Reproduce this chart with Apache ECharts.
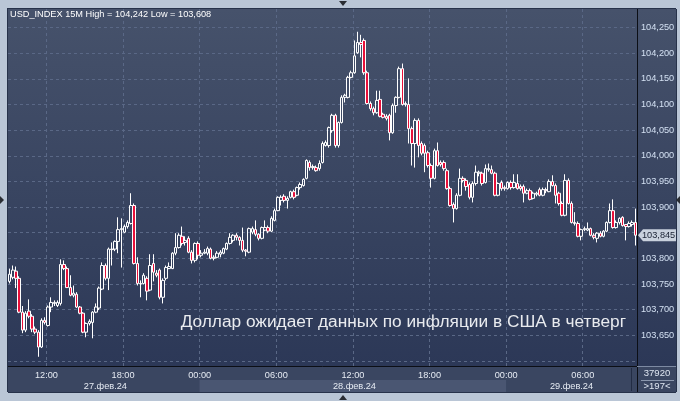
<!DOCTYPE html>
<html><head><meta charset="utf-8">
<script src="https://cdn.jsdelivr.net/npm/echarts@6/dist/echarts.min.js"></script>
<style>html,body{margin:0;padding:0;background:#bac6d6;}#c{width:680px;height:401px;}</style>
</head><body><div id="c"></div>
<script>
const symbol = 'USD_INDEX';
const timeframe = '15M';
const headline = 'Доллар ожидает данных по инфляции в США в четверг';
const totalBars = 37920;
const dayKeys = ['27.02', '28.02', '29.02'];
const dayLabels = ['27.фев.24', '28.фев.24', '29.фев.24'];
const firstBarDay = 27, firstBarMinute = 9 * 60, barMinutes = 15;

const openP = [
103.755,103.763,103.775,103.761,103.695,103.660,103.697,103.687,103.662,103.656,
103.627,103.679,103.669,103.705,103.712,103.708,103.712,103.788,103.780,103.743,
103.728,103.730,103.705,103.693,103.656,103.673,103.675,103.695,103.703,103.740,
103.786,103.761,103.818,103.818,103.833,103.856,103.851,103.862,103.868,103.903,
103.790,103.751,103.751,103.761,103.738,103.790,103.771,103.777,103.724,103.761,
103.780,103.780,103.810,103.821,103.843,103.831,103.839,103.812,103.796,103.829,
103.806,103.810,103.810,103.818,103.800,103.802,103.808,103.810,103.818,103.829,
103.835,103.845,103.841,103.835,103.816,103.812,103.851,103.856,103.847,103.839,
103.855,103.860,103.853,103.874,103.893,103.913,103.921,103.913,103.919,103.930,
103.923,103.938,103.942,103.956,103.987,103.977,103.977,103.975,103.987,104.020,
104.020,104.049,104.079,104.020,104.065,104.114,104.114,104.153,104.162,104.201,
104.221,104.225,104.162,104.102,104.092,104.084,104.110,104.081,104.077,104.079,
104.045,104.098,104.114,104.170,104.100,104.100,104.053,104.024,104.069,104.024,
104.020,104.006,103.981,103.956,104.010,103.987,103.987,103.971,103.936,103.905,
103.897,103.923,103.956,103.952,103.944,103.919,103.946,103.966,103.966,103.948,
103.973,103.973,103.966,103.923,103.948,103.938,103.936,103.948,103.938,103.946,
103.940,103.940,103.927,103.932,103.917,103.925,103.934,103.923,103.934,103.930,
103.950,103.942,103.927,103.907,103.884,103.952,103.907,103.870,103.868,103.843,
103.856,103.855,103.858,103.845,103.839,103.849,103.843,103.853,103.870,103.893,
103.860,103.870,103.880,103.866,103.862,103.866,103.870];
const closeP = [
103.769,103.777,103.761,103.695,103.660,103.693,103.687,103.662,103.656,103.627,
103.679,103.675,103.705,103.714,103.714,103.714,103.788,103.780,103.743,103.728,
103.732,103.705,103.693,103.656,103.673,103.677,103.695,103.705,103.742,103.786,
103.761,103.818,103.817,103.833,103.856,103.858,103.862,103.870,103.903,103.790,
103.751,103.750,103.767,103.736,103.786,103.773,103.767,103.724,103.757,103.782,
103.784,103.810,103.821,103.845,103.829,103.835,103.812,103.796,103.829,103.806,
103.810,103.812,103.819,103.800,103.802,103.810,103.812,103.819,103.829,103.841,
103.845,103.841,103.835,103.816,103.814,103.858,103.858,103.847,103.839,103.860,
103.860,103.853,103.878,103.893,103.919,103.919,103.913,103.917,103.930,103.919,
103.938,103.944,103.954,103.991,103.977,103.979,103.971,103.985,104.024,104.026,
104.055,104.079,104.020,104.065,104.114,104.118,104.153,104.162,104.195,104.221,
104.217,104.162,104.102,104.092,104.084,104.108,104.077,104.075,104.073,104.045,
104.098,104.114,104.170,104.100,104.102,104.053,104.024,104.069,104.020,104.005,
104.005,103.981,103.956,104.010,103.981,103.983,103.975,103.936,103.903,103.897,
103.923,103.956,103.952,103.940,103.919,103.946,103.968,103.968,103.946,103.975,
103.975,103.966,103.923,103.946,103.936,103.936,103.948,103.938,103.948,103.936,
103.936,103.927,103.932,103.915,103.927,103.927,103.923,103.934,103.932,103.950,
103.942,103.923,103.907,103.884,103.952,103.907,103.870,103.868,103.843,103.856,
103.858,103.858,103.845,103.841,103.849,103.843,103.853,103.870,103.893,103.860,
103.870,103.878,103.864,103.862,103.868,103.870,103.845];
const lowP = [
103.751,103.759,103.742,103.693,103.654,103.656,103.683,103.656,103.652,103.608,
103.625,103.671,103.667,103.695,103.707,103.705,103.708,103.777,103.742,103.726,
103.724,103.703,103.691,103.654,103.646,103.669,103.644,103.693,103.699,103.738,
103.757,103.738,103.786,103.814,103.810,103.782,103.849,103.858,103.866,103.788,
103.747,103.724,103.749,103.718,103.736,103.755,103.763,103.720,103.712,103.757,
103.779,103.779,103.806,103.819,103.825,103.825,103.810,103.790,103.792,103.798,
103.802,103.808,103.806,103.798,103.796,103.800,103.802,103.808,103.816,103.827,
103.831,103.835,103.825,103.812,103.804,103.810,103.847,103.843,103.835,103.837,
103.853,103.849,103.851,103.872,103.892,103.903,103.909,103.897,103.917,103.915,
103.921,103.934,103.940,103.954,103.971,103.973,103.969,103.971,103.985,104.018,
104.016,104.045,104.016,104.016,104.063,104.104,104.112,104.151,104.160,104.199,
104.192,104.158,104.100,104.088,104.079,104.082,104.075,104.073,104.069,104.030,
104.043,104.084,104.112,104.098,104.096,104.024,103.981,103.977,103.997,104.001,
103.968,103.977,103.938,103.954,103.979,103.979,103.971,103.934,103.901,103.870,
103.895,103.921,103.948,103.932,103.915,103.909,103.942,103.960,103.942,103.946,
103.969,103.964,103.921,103.921,103.932,103.932,103.934,103.934,103.936,103.934,
103.932,103.909,103.925,103.913,103.915,103.921,103.921,103.921,103.927,103.929,
103.940,103.907,103.903,103.882,103.882,103.905,103.868,103.864,103.841,103.835,
103.853,103.853,103.843,103.837,103.831,103.841,103.841,103.851,103.868,103.858,
103.858,103.866,103.862,103.835,103.860,103.862,103.825];
const highP = [
103.780,103.786,103.784,103.765,103.707,103.697,103.720,103.691,103.667,103.660,
103.683,103.685,103.708,103.724,103.718,103.718,103.798,103.796,103.784,103.767,
103.747,103.734,103.707,103.695,103.675,103.681,103.697,103.712,103.745,103.792,
103.790,103.821,103.831,103.835,103.880,103.878,103.866,103.874,103.927,103.907,
103.802,103.757,103.771,103.765,103.808,103.808,103.777,103.780,103.761,103.786,
103.792,103.812,103.849,103.849,103.862,103.843,103.843,103.816,103.831,103.833,
103.816,103.818,103.823,103.821,103.806,103.814,103.816,103.821,103.831,103.849,
103.847,103.849,103.843,103.860,103.818,103.860,103.862,103.874,103.849,103.862,
103.874,103.864,103.882,103.897,103.921,103.923,103.925,103.921,103.932,103.934,
103.940,103.948,103.956,103.993,103.991,103.983,103.981,103.991,104.028,104.030,
104.057,104.082,104.082,104.067,104.118,104.121,104.156,104.166,104.225,104.242,
104.236,104.229,104.166,104.106,104.096,104.127,104.127,104.084,104.081,104.082,
104.102,104.116,104.174,104.180,104.106,104.151,104.057,104.073,104.073,104.028,
104.024,104.010,103.985,104.014,104.026,103.991,103.991,103.975,103.940,103.909,
103.927,103.975,103.960,103.956,103.948,103.950,103.981,103.971,103.969,103.983,
103.985,103.981,103.969,103.948,103.952,103.942,103.950,103.952,103.964,103.964,
103.944,103.944,103.936,103.936,103.930,103.930,103.938,103.938,103.938,103.954,
103.962,103.946,103.930,103.911,103.964,103.956,103.911,103.890,103.872,103.858,
103.862,103.870,103.860,103.849,103.851,103.853,103.855,103.872,103.907,103.915,
103.874,103.880,103.882,103.866,103.872,103.874,103.897];

const pad = n => (n < 10 ? '0' : '') + n;
const categories = openP.map((_, i) => {
  const m = firstBarMinute + i * barMinutes;
  const d = firstBarDay + Math.floor(m / 1440), mm = m % 1440;
  return d + '.02 ' + pad(Math.floor(mm / 60)) + ':' + pad(mm % 60);
});
const ohlc = openP.map((o, i) => [o, closeP[i], lowP[i], highP[i]]);
const fmt = v => v.toFixed(3).replace('.', ',');
const lastClose = closeP[closeP.length - 1];
const hi = Math.max(...highP), lo = Math.min(...lowP);

const isSixHour = (idx, val) => { const hh = +val.slice(-5, -3), mm = +val.slice(-2); return mm === 0 && hh % 6 === 0; };
const dayRanges = dayKeys.map(k => { const ids = categories.map((c, i) => c.startsWith(k) ? i : -1).filter(i => i >= 0); return [ids[0], ids[ids.length - 1]]; });
const dayCenters = dayRanges.map(r => Math.round((r[0] + r[1]) / 2));

const FONT = '"Liberation Sans", Arial, sans-serif';
const gridCol = '#5a6886';
const chart = echarts.init(document.getElementById('c'));
chart.setOption({
  animation: false,
  backgroundColor: '#bac6d6',
  grid: [
    { left: 8, right: 43, top: 2, bottom: 14.5 },
    { left: 8, right: 43, top: 9, bottom: 35 }
  ],
  xAxis: [
    { type: 'category', gridIndex: 0, data: categories, boundaryGap: true, show: false },
    { type: 'category', gridIndex: 1, data: categories, boundaryGap: true,
      axisLine: { show: false }, axisTick: { show: false },
      axisLabel: { interval: isSixHour, formatter: v => v.slice(-5), color: '#e6ebf3', fontSize: 9.2, fontFamily: FONT, margin: 5, padding: [0, 3, 0, 0] },
      splitLine: { show: true, interval: isSixHour, lineStyle: { color: gridCol, type: [3, 3], width: 1 } } },
    { type: 'category', gridIndex: 1, data: categories, boundaryGap: true, position: 'bottom',
      axisLine: { show: false }, axisTick: { show: false }, splitLine: { show: false },
      axisLabel: { interval: (i) => dayCenters.includes(i), formatter: (v, i) => dayLabels[dayCenters.indexOf(i)] || '', color: '#e6ebf3', fontSize: 9.2, fontFamily: FONT, margin: 16 } }
  ],
  yAxis: [
    { type: 'value', gridIndex: 0, position: 'right', min: 103.55, max: 104.30, interval: 0.05, scale: true,
      axisLine: { show: false }, axisTick: { show: false },
      axisLabel: { formatter: v => (v < 103.62 || v > 104.27 || Math.abs(v - lastClose) < 0.02) ? '' : fmt(v), color: '#d3e0f2', fontSize: 9.2, fontFamily: FONT, margin: 4 },
      splitLine: { show: true, showMinLine: false, showMaxLine: false, lineStyle: { color: gridCol, type: [3, 3], width: 1 } } },
    { type: 'value', gridIndex: 1, show: false }
  ],
  series: [{
    type: 'candlestick', xAxisIndex: 0, yAxisIndex: 0, data: ohlc, barWidth: 3,
    itemStyle: { color: 'transparent', color0: '#e8103a', borderColor: '#ffffff', borderColor0: '#ffffff', borderWidth: 1 }
  }]
});

const PL = 8, PR = 637, PT = 9, PB = 366, AB = 392, RR = 676;
const xp = i => chart.convertToPixel({ xAxisIndex: 1 }, i);
const band = xp(1) - xp(0);
const yL = chart.convertToPixel({ yAxisIndex: 0 }, lastClose);
const shadeDay = dayRanges[1];
const sx0 = xp(shadeDay[0]) - band / 2, sx1 = xp(shadeDay[1]) + band / 2;
const txt = (x, y, text, font, fill, align, z) => ({ type: 'text', x: x, y: y, z: z || 50, silent: true,
  style: { text: text, font: font, fill: fill, textAlign: align || 'left', textVerticalAlign: 'middle', align: align || 'left', verticalAlign: 'middle' } });
const line = (x1, y1, x2, y2, c, z) => ({ type: 'line', z: z || 40, silent: true, shape: { x1: x1, y1: y1, x2: x2, y2: y2 }, style: { stroke: c, lineWidth: 1 } });
const tri = (pts, c) => ({ type: 'polygon', z: 40, silent: true, shape: { points: pts }, style: { fill: c } });

chart.setOption({ graphic: [
  { type: 'rect', z: -100, silent: true, shape: { x: PL, y: PT, width: RR - PL, height: PB - PT },
    style: { fill: { type: 'linear', x: 0, y: 0, x2: 0, y2: 1, colorStops: [{ offset: 0, color: '#46526b' }, { offset: 1, color: '#2c3857' }] } } },
  { type: 'rect', z: -100, silent: true, shape: { x: PL, y: PB, width: RR - PL, height: AB - PB }, style: { fill: '#3a4661' } },
  { type: 'rect', z: -99, silent: true, shape: { x: sx0, y: 380, width: sx1 - sx0, height: AB - 380 }, style: { fill: '#4a5672' } },
  line(PL - 0.5, PT - 1, PL - 0.5, AB, '#27324a'),
  line(PL, PT - 0.5, RR, PT - 0.5, '#27324a'),
  line(PR + 0.5, PT, PR + 0.5, AB, '#0c0f16'),
  line(PL, PB + 0.5, PR, PB + 0.5, '#0c0f16'),
  line(PR, PB + 0.5, RR, PB + 0.5, '#7d8aa2'),
  line(RR + 0.5, PT, RR + 0.5, AB, '#27324a'),
  line(PL, AB + 0.5, RR, AB + 0.5, '#27324a'),
  line(631.5, PB + 2, 631.5, AB - 1, '#222c44'),
  line(641, 380.5, 674, 380.5, '#8b97ad'),
  txt(657, 373.5, String(totalBars), '9.5px ' + FONT, '#dfe6f1', 'center'),
  txt(657, 386, '>' + categories.length + '<', '9.5px ' + FONT, '#dfe6f1', 'center'),
  txt(10, 14, symbol + ' ' + timeframe + ' High = ' + fmt(hi) + ' Low = ' + fmt(lo), '9.2px ' + FONT, '#ffffff', 'left'),
  txt(626, 322, headline, '17.3px ' + FONT, '#e9ebef', 'right', 60),
  { type: 'polygon', z: 55, silent: true, shape: { points: [[PR + 1, yL], [PR + 6, yL - 6], [RR, yL - 6], [RR, yL + 6], [PR + 6, yL + 6]] }, style: { fill: '#c9d1dd' } },
  txt(PR + 5, yL + 0.5, fmt(lastClose), '9.2px ' + FONT, '#1a2233', 'left', 56),
  tri([[339, 1], [347, 1], [343, 6]], '#2a2d33'),
  tri([[339, 400], [347, 400], [343, 395]], '#2a2d33'),
  tri([[0, 196], [0, 204], [4, 200]], '#2a2d33'),
  tri([[680, 196], [680, 204], [676, 200]], '#2a2d33')
] });
</script>
</body></html>
